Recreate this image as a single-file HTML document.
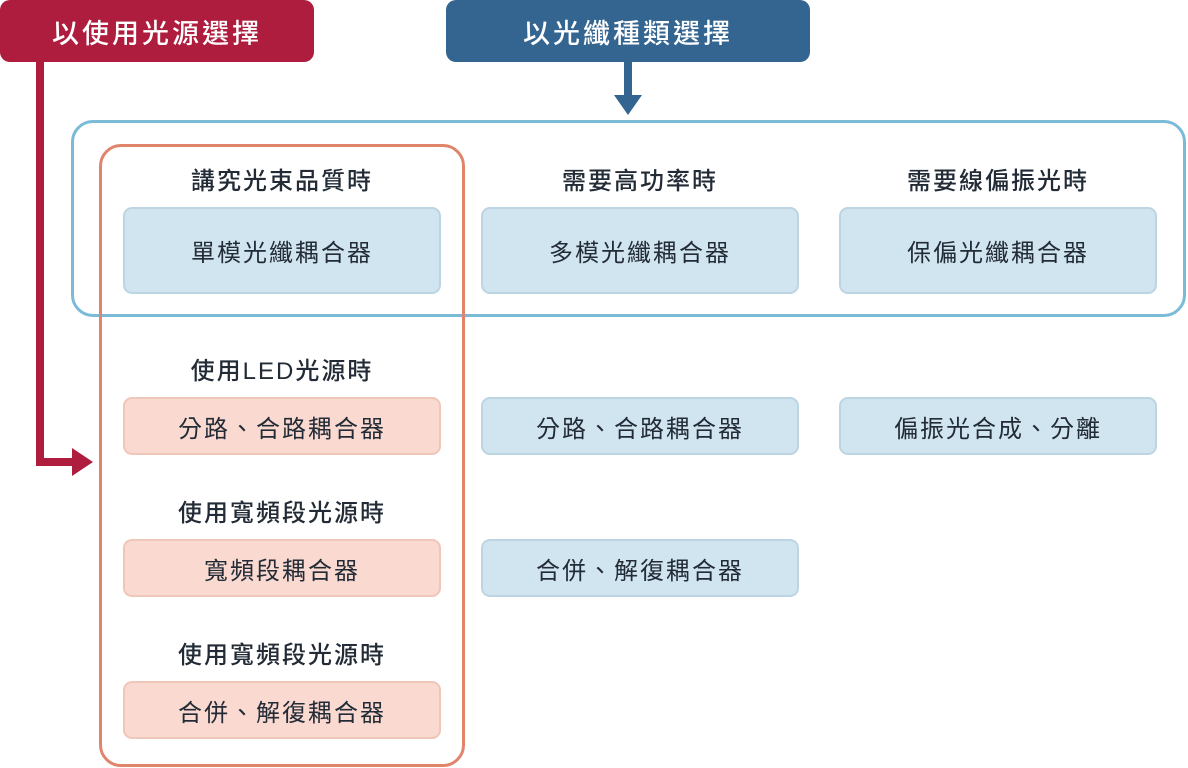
<!DOCTYPE html>
<html><head><meta charset="utf-8"><style>
*{margin:0;padding:0;box-sizing:border-box}
body{width:1188px;height:768px;background:#fff;position:relative;overflow:hidden;font-family:"Liberation Sans","Noto Sans CJK TC",sans-serif;color:#222b36}
.a{position:absolute}
.hdr{position:absolute;top:0;height:62px;color:#fff;font-size:27px;font-weight:500;display:flex;align-items:center;justify-content:center;border-radius:10px;letter-spacing:3px}
.n{position:absolute;height:58px;border-radius:9px;display:flex;align-items:center;justify-content:center;font-size:24px;letter-spacing:2px;border:2px solid}
.b{background:#d1e5f0;border-color:#bdd5e2}
.p{background:#f9d9d0;border-color:#efc6ba}
.l{position:absolute;font-size:24px;text-align:center;width:318px;letter-spacing:2px;font-weight:500}
</style></head><body>
<div class="hdr" style="left:0;width:314px;background:#ae1c3e">以使用光源選擇</div>
<div class="hdr" style="left:446px;width:364px;background:#336590">以光纖種類選擇</div>
<div class="a" style="left:624px;top:62px;width:8px;height:34px;background:#336590"></div>
<div class="a" style="left:614px;top:95px;width:0;height:0;border-left:14px solid transparent;border-right:14px solid transparent;border-top:20px solid #336590"></div>
<div class="a" style="left:36px;top:62px;width:8px;height:404px;background:#ae1c3e"></div>
<div class="a" style="left:36px;top:458px;width:38px;height:8px;background:#ae1c3e"></div>
<div class="a" style="left:72px;top:448px;width:0;height:0;border-top:14px solid transparent;border-bottom:14px solid transparent;border-left:21px solid #ae1c3e"></div>
<div class="a" style="left:71px;top:120px;width:1115px;height:197px;border:3px solid #7bbbd8;border-radius:22px"></div>
<div class="a" style="left:99px;top:144px;width:366px;height:623px;border:3px solid #e0856c;border-radius:22px"></div>
<div class="l" style="left:123px;top:161px">講究光束品質時</div>
<div class="l" style="left:481px;top:161px">需要高功率時</div>
<div class="l" style="left:839px;top:161px">需要線偏振光時</div>
<div class="n b" style="left:123px;top:207px;width:318px;height:87px">單模光纖耦合器</div>
<div class="n b" style="left:481px;top:207px;width:318px;height:87px">多模光纖耦合器</div>
<div class="n b" style="left:839px;top:207px;width:318px;height:87px">保偏光纖耦合器</div>
<div class="l" style="left:123px;top:351px">使用LED光源時</div>
<div class="n p" style="left:123px;top:397px;width:318px">分路、合路耦合器</div>
<div class="n b" style="left:481px;top:397px;width:318px">分路、合路耦合器</div>
<div class="n b" style="left:839px;top:397px;width:318px">偏振光合成、分離</div>
<div class="l" style="left:123px;top:493px">使用寬頻段光源時</div>
<div class="n p" style="left:123px;top:539px;width:318px">寬頻段耦合器</div>
<div class="n b" style="left:481px;top:539px;width:318px">合併、解復耦合器</div>
<div class="l" style="left:123px;top:635px">使用寬頻段光源時</div>
<div class="n p" style="left:123px;top:681px;width:318px">合併、解復耦合器</div>
</body></html>
